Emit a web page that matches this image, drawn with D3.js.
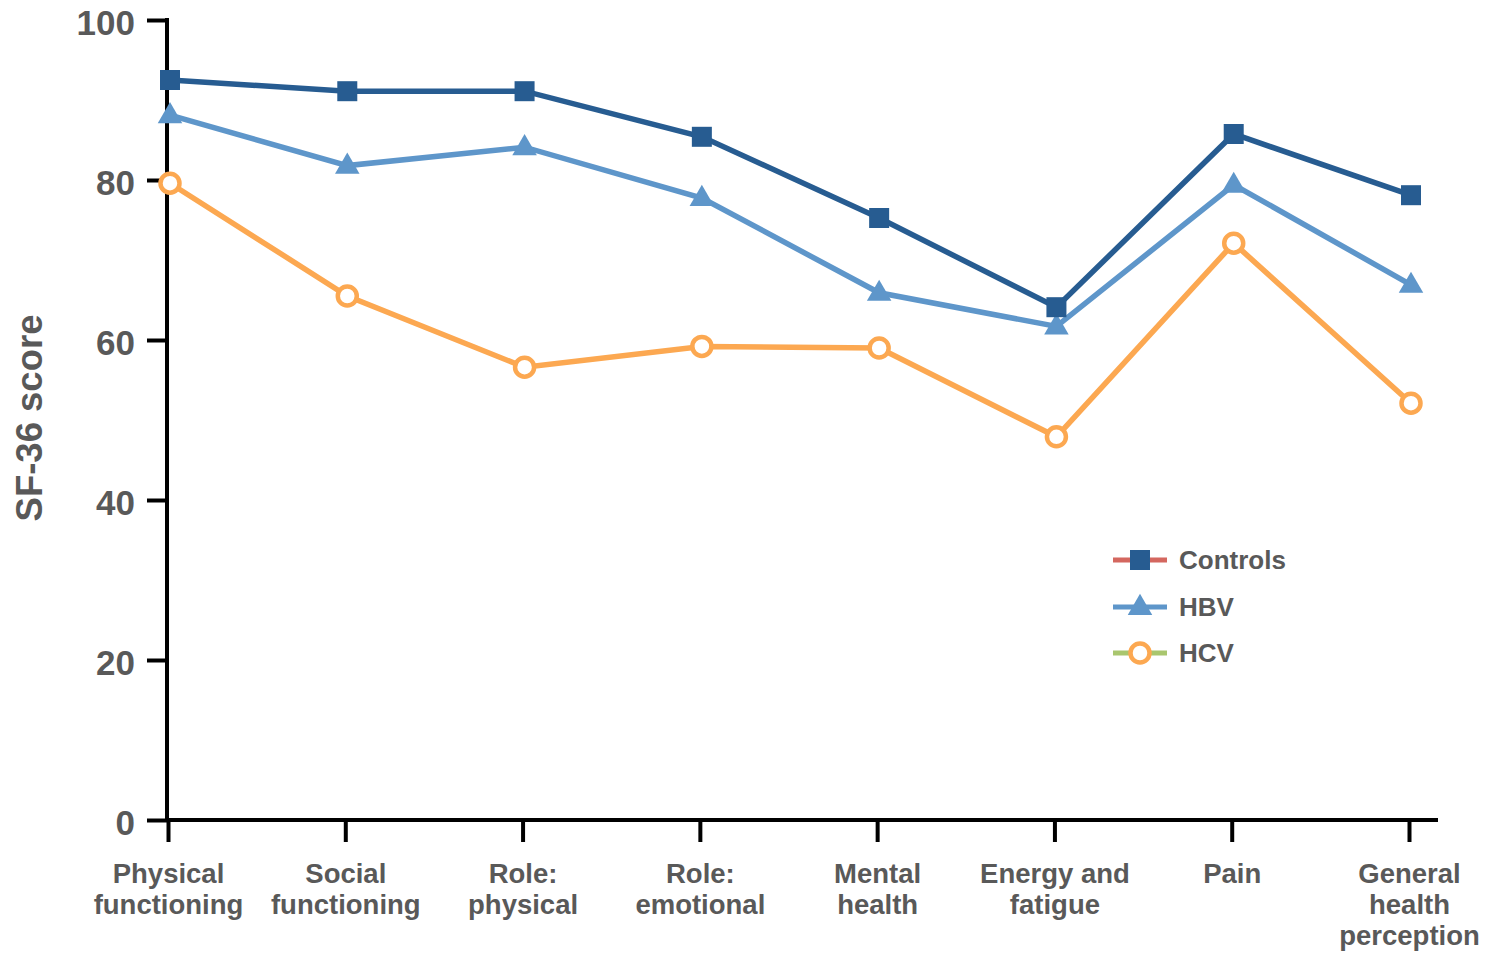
<!DOCTYPE html>
<html>
<head>
<meta charset="utf-8">
<script src="https://cdn.jsdelivr.net/npm/d3@7"></script>
<style>
  html, body { margin: 0; padding: 0; background: #fff; }
  svg { display: block; font-family: "Liberation Sans", Arial, sans-serif; }
</style>
</head>
<body>
<svg id="chart" width="1485" height="959"></svg>
<script>
const categories = [
  ["Physical", "functioning"],
  ["Social", "functioning"],
  ["Role:", "physical"],
  ["Role:", "emotional"],
  ["Mental", "health"],
  ["Energy and", "fatigue"],
  ["Pain"],
  ["General", "health", "perception"]
];
const categoryKeys = categories.map(c => c.join(" "));
const controls = [92.5, 91.1, 91.1, 85.4, 75.25, 64.1, 85.75, 78.1];
const hbv      = [88.1, 81.8, 84.1, 77.75, 65.9, 61.7, 79.4, 66.9];
const hcv      = [79.6, 65.5, 56.6, 59.2, 59.0, 47.9, 72.1, 52.1];
const yTicks = [0, 20, 40, 60, 80, 100];
const seriesNames = ["Controls", "HBV", "HCV"];

const series = [
  { name: seriesNames[0], values: controls, color: "#275c91", legendLine: "#d4675f", symbol: "square" },
  { name: seriesNames[1], values: hbv, color: "#5e96ca", legendLine: "#5e96ca", symbol: "triangle" },
  { name: seriesNames[2], values: hcv, color: "#fca851", legendLine: "#a9c66e", symbol: "circle" }
];

const svg = d3.select("#chart");
const textColor = "#595959";

const y = d3.scaleLinear().domain([0, 100]).range([820, 20]);
const xTick = d3.scalePoint().domain(categoryKeys).range([168, 1409]);
const xPt = d3.scalePoint().domain(categoryKeys).range([170, 1411]);

// Axes lines
svg.append("line").attr("x1", 167).attr("x2", 167).attr("y1", 18).attr("y2", 822)
  .attr("stroke", "#000").attr("stroke-width", 4);
svg.append("line").attr("x1", 165).attr("x2", 1438).attr("y1", 820).attr("y2", 820)
  .attr("stroke", "#000").attr("stroke-width", 4);

// Y axis
const yAxis = svg.append("g").attr("transform", "translate(167,0)")
  .call(d3.axisLeft(y).tickValues(yTicks).tickSize(20).tickPadding(12).tickSizeOuter(0));
yAxis.select(".domain").remove();
yAxis.selectAll(".tick line").attr("stroke", "#000").attr("stroke-width", 4);
yAxis.selectAll(".tick text").attr("fill", textColor).attr("font-size", 35)
  .attr("font-weight", "bold").attr("font-family", "Liberation Sans, Arial, sans-serif")
  .attr("dy", "0.42em");

// X axis
const xAxis = svg.append("g").attr("transform", "translate(0,820)")
  .call(d3.axisBottom(xTick).tickSize(22).tickFormat("").tickSizeOuter(0));
xAxis.select(".domain").remove();
xAxis.selectAll(".tick line").attr("stroke", "#000").attr("stroke-width", 4);
xAxis.selectAll(".tick").each(function(d, i) {
  const t = d3.select(this).append("text")
    .attr("fill", textColor).attr("font-size", 27.5).attr("font-weight", "bold")
    .attr("text-anchor", "middle").attr("font-family", "Liberation Sans, Arial, sans-serif");
  categories[i].forEach((line, j) => {
    t.append("tspan").attr("x", 0).attr("y", 63 + j * 31).text(line);
  });
});

// Y title
svg.append("text")
  .attr("transform", "translate(42,418) rotate(-90)")
  .attr("text-anchor", "middle")
  .attr("fill", textColor).attr("font-size", 36.5).attr("font-weight", "bold")
  .text("SF-36 score");

// Series
const line = d3.line().x((d, i) => xPt(categoryKeys[i])).y(d => y(d));

function drawMarker(g, s, cx, cy) {
  if (s.symbol === "square") {
    g.append("rect").attr("x", cx - 10).attr("y", cy - 10).attr("width", 20).attr("height", 20)
      .attr("fill", s.color);
  } else if (s.symbol === "triangle") {
    g.append("path").attr("transform", `translate(${cx},${cy + 1})`)
      .attr("d", d3.symbol(d3.symbolTriangle, 260)()).attr("fill", s.color);
  } else {
    g.append("circle").attr("cx", cx).attr("cy", cy).attr("r", 9.5)
      .attr("fill", "#fff").attr("stroke", s.color).attr("stroke-width", 4.5);
  }
}

series.slice().reverse().forEach(s => {
  const g = svg.append("g");
  g.append("path").datum(s.values).attr("d", line)
    .attr("fill", "none").attr("stroke", s.color).attr("stroke-width", 5.5)
    .attr("stroke-linejoin", "miter");
  s.values.forEach((v, i) => drawMarker(g, s, xPt(categoryKeys[i]), y(v)));
});

// Legend
const legendY = [560, 607, 653];
series.forEach((s, i) => {
  const g = svg.append("g");
  g.append("line").attr("x1", 1113).attr("x2", 1167).attr("y1", legendY[i]).attr("y2", legendY[i])
    .attr("stroke", s.legendLine).attr("stroke-width", 5);
  drawMarker(g, s, 1140, legendY[i]);
  g.append("text").attr("x", 1179).attr("y", legendY[i] + 9)
    .attr("fill", textColor).attr("font-size", 26).attr("font-weight", "bold")
    .text(s.name);
});
</script>
</body>
</html>
